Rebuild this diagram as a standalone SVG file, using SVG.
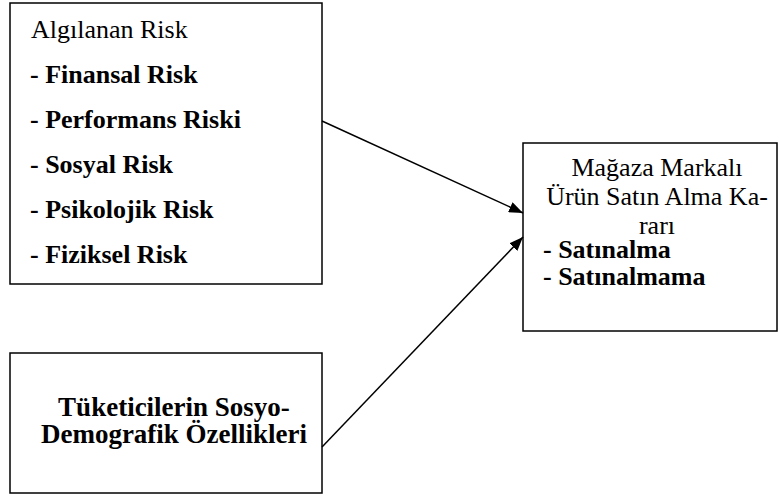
<svg xmlns="http://www.w3.org/2000/svg" width="779" height="496" viewBox="0 0 779 496">
<style>
.box{fill:#fff;stroke:#000;stroke-width:1.5}
.t{font-family:"Liberation Serif","Times New Roman",serif;font-size:26px;fill:#000}
.b{font-weight:bold}
.c{text-anchor:middle}
.big{font-size:27px}
.con{stroke:#000;stroke-width:1.5;fill:none}
</style>
<defs>
<marker id="arr" viewBox="0 0 14 11" refX="14" refY="5.5" markerWidth="14" markerHeight="11" markerUnits="userSpaceOnUse" orient="auto">
<path d="M0,0 L14,5.5 L0,11 z" fill="#000"/>
</marker>
</defs>
<g id="risk">
<rect class="box" x="10" y="3" width="312" height="281"/>
<text class="t" x="31" y="38">Algılanan Risk</text>
<text class="t b" x="30" y="83">- Finansal Risk</text>
<text class="t b" x="30" y="128">- Performans Riski</text>
<text class="t b" x="30" y="173">- Sosyal Risk</text>
<text class="t b" x="30" y="218">- Psikolojik Risk</text>
<text class="t b" x="30" y="263">- Fiziksel Risk</text>
</g>
<g id="demo">
<rect class="box" x="10" y="353" width="312" height="140"/>
<text class="t b c big" x="174" y="416">Tüketicilerin Sosyo-</text>
<text class="t b c big" x="174" y="443">Demografik Özellikleri</text>
</g>
<g id="karar">
<rect class="box" x="523" y="143" width="254" height="188"/>
<text class="t c" x="657" y="176">Mağaza Markalı</text>
<text class="t c" x="657" y="205">Ürün Satın Alma Ka-</text>
<text class="t c" x="657" y="234">rarı</text>
<text class="t b" x="543" y="258">- Satınalma</text>
<text class="t b" x="543" y="285">- Satınalmama</text>
</g>
<g id="connectors">
<line class="con" x1="322" y1="121" x2="523" y2="213" marker-end="url(#arr)"/>
<line class="con" x1="322" y1="447" x2="523" y2="237" marker-end="url(#arr)"/>
</g>
</svg>
